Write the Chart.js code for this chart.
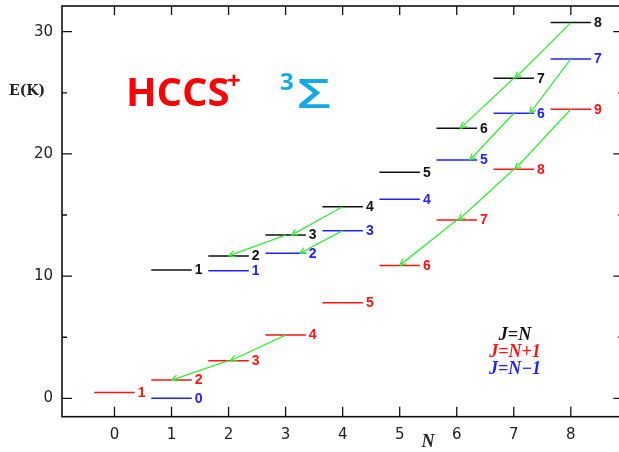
<!DOCTYPE html>
<html>
<head>
<meta charset="utf-8">
<script src="https://cdn.jsdelivr.net/npm/chart.js@4.4.1/dist/chart.umd.min.js"></script>
<style>
  html, body { margin: 0; padding: 0; overflow: hidden; background: #fff; }
  #wrap { width: 626px; height: 452px; }
</style>
</head>
<body>
<div id="wrap"><canvas id="levels" width="626" height="452"></canvas></div>
<script>
const N_VALUES = [0, 1, 2, 3, 4, 5, 6, 7, 8];

// level energies in K (null = no level for that N)
const E_J_EQ_N = [null, 10.5, 11.65, 13.36, 15.68, 18.49, 22.09, 26.19, 30.74];
const E_J_N_PLUS = [0.49, 1.5, 3.08, 5.18, 7.82, 10.88, 14.59, 18.74, 23.65];
const E_J_N_MINUS = [null, 0, 10.45, 11.87, 13.72, 16.28, 19.5, 23.32, 27.77];

// J printed next to each level
const J_EQ_N = ['', '1', '2', '3', '4', '5', '6', '7', '8'];
const J_N_PLUS = ['1', '2', '3', '4', '5', '6', '7', '8', '9'];
const J_N_MINUS = ['', '0', '1', '2', '3', '4', '5', '6', '7'];

// cascades: [upper N, lower N, N where the arrow lands on the lower level]
const ARROWS_EQ = [[8, 7, 7.02], [7, 6, 6.06], [4, 3, 3.1], [3, 2, 2.0]];
const ARROWS_PLUS = [[8, 7, 7.02], [7, 6, 6.03], [6, 5, 5.0], [3, 2, 2.03], [2, 1, 1.0]];
const ARROWS_MINUS = [[8, 7, 7.28], [7, 6, 6.23], [4, 3, 3.25]];

const LEGEND_TEXT = ['J=N', 'J=N+1', 'J=N\u22121'];

const HALF = 0.355; // half width of a level bar, in N units
const GREEN = '#3ce83c';

const SERIES = [
  { energies: E_J_EQ_N, labels: J_EQ_N, arrows: ARROWS_EQ, color: '#111111' },
  { energies: E_J_N_PLUS, labels: J_N_PLUS, arrows: ARROWS_PLUS, color: '#ff1414' },
  { energies: E_J_N_MINUS, labels: J_N_MINUS, arrows: ARROWS_MINUS, color: '#2222ff' },
];

function levelPoints(energies) {
  const pts = [];
  N_VALUES.forEach((n, i) => {
    const e = energies[i];
    if (e === null) return;
    pts.push({ x: n - HALF, y: e }, { x: n + HALF, y: e }, { x: n + HALF, y: null });
  });
  return pts;
}

function arrowPoints(s) {
  const pts = [];
  s.arrows.forEach(([from, to, tip]) => {
    pts.push({ x: from, y: s.energies[from] }, { x: tip, y: s.energies[to] }, { x: tip, y: null });
  });
  return pts;
}

const datasets = [];
SERIES.forEach((s) => {
  datasets.push({ data: arrowPoints(s), borderColor: GREEN, borderWidth: 1.3, pointRadius: 0, order: 0 });
});
SERIES.forEach((s) => {
  datasets.push({ data: levelPoints(s.energies), borderColor: s.color, borderWidth: 1.5, pointRadius: 0, order: 1 });
});

// frame with inward ticks on all four sides
const framePlugin = {
  id: 'frame',
  afterDatasetsDraw(chart) {
    const { ctx, chartArea: a, scales } = chart;
    ctx.save();
    ctx.strokeStyle = '#111';
    ctx.lineWidth = 1.6;
    ctx.strokeRect(a.left, a.top, a.right - a.left, a.bottom - a.top);
    ctx.lineWidth = 1.3;
    ctx.beginPath();
    scales.x.ticks.forEach((t) => {
      const px = scales.x.getPixelForValue(t.value);
      ctx.moveTo(px, a.bottom); ctx.lineTo(px, a.bottom - 10);
      ctx.moveTo(px, a.top); ctx.lineTo(px, a.top + 9);
    });
    scales.y.ticks.forEach((t) => {
      const py = scales.y.getPixelForValue(t.value);
      const len = t.value % 10 === 0 ? 10 : 5;
      ctx.moveTo(a.left, py); ctx.lineTo(a.left + len, py);
      ctx.moveTo(a.right, py); ctx.lineTo(a.right - len, py);
    });
    ctx.stroke();
    ctx.restore();
  },
};

// arrowheads, level labels and the free text
const notesPlugin = {
  id: 'notes',
  afterDatasetsDraw(chart) {
    const { ctx, scales: { x, y } } = chart;
    ctx.save();

    ctx.strokeStyle = GREEN;
    ctx.lineWidth = 1.3;
    SERIES.forEach((s) => {
      s.arrows.forEach(([from, to, tip]) => {
        const x0 = x.getPixelForValue(from), y0 = y.getPixelForValue(s.energies[from]);
        const x1 = x.getPixelForValue(tip), y1 = y.getPixelForValue(s.energies[to]);
        const ang = Math.atan2(y1 - y0, x1 - x0);
        ctx.beginPath();
        [-0.45, 0.45].forEach((d) => {
          ctx.moveTo(x1, y1);
          ctx.lineTo(x1 - 7 * Math.cos(ang + d), y1 - 7 * Math.sin(ang + d));
        });
        ctx.stroke();
      });
    });

    ctx.font = 'bold 14px "Liberation Sans"';
    ctx.textBaseline = 'middle';
    ctx.textAlign = 'left';
    SERIES.forEach((s) => {
      ctx.fillStyle = s.color;
      N_VALUES.forEach((n, i) => {
        if (s.energies[i] === null) return;
        ctx.fillText(s.labels[i], x.getPixelForValue(n + HALF) + 3, y.getPixelForValue(s.energies[i]) + 0.5);
      });
    });

    ctx.textAlign = 'center';
    ctx.font = 'italic bold 18px "Liberation Serif"';
    LEGEND_TEXT.forEach((t, i) => {
      ctx.fillStyle = SERIES[i].color;
      ctx.fillText(t, 515, 335 + i * 17);
    });

    ctx.fillStyle = '#222';
    ctx.font = 'bold 14px "DejaVu Serif"';
    ctx.fillText('E(K)', 27, 91);
    ctx.font = 'italic bold 18px "Liberation Serif"';
    ctx.fillText('N', 428, 442);

    ctx.textBaseline = 'alphabetic';
    ctx.textAlign = 'left';
    ctx.fillStyle = '#ff0000';
    ctx.font = 'bold 40px "Open Sans"';
    ctx.fillText('HCCS', 126, 106);
    ctx.font = 'bold 24px "Open Sans"';
    ctx.fillText('+', 227, 89);
    ctx.fillStyle = '#14a9e6';
    ctx.fillText('3', 280, 90);

    // the sigma is drawn wider than the font gives it
    ctx.font = '600 40px "Open Sans"';
    const w = ctx.measureText('\u03A3').width;
    ctx.translate(297, 108);
    ctx.scale(34 / w, 1);
    ctx.fillText('\u03A3', 0, 0);

    ctx.restore();
  },
};

new Chart(document.getElementById('levels'), {
  type: 'line',
  data: { datasets },
  options: {
    responsive: false,
    animation: false,
    events: [],
    spanGaps: false,
    layout: { padding: { top: 6, right: 2.7, left: 0, bottom: 0 } },
    plugins: { legend: { display: false }, tooltip: { enabled: false } },
    scales: {
      x: {
        type: 'linear', min: -0.92, max: 8.92,
        grid: { display: false, drawTicks: false }, border: { display: false },
        ticks: { stepSize: 1, includeBounds: false, autoSkip: false, padding: 9, color: '#222', font: { family: 'DejaVu Sans', size: 15 } },
        afterFit: (s) => { s.height = 35.3; s.paddingLeft = 0; s.paddingRight = 0; },
      },
      y: {
        type: 'linear', min: -1.5, max: 32.1,
        grid: { display: false, drawTicks: false }, border: { display: false },
        ticks: {
          stepSize: 5, includeBounds: false, autoSkip: false, padding: 9, color: '#222',
          font: { family: 'DejaVu Sans', size: 15 },
          callback: (v) => (v % 10 === 0 ? v : ''),
        },
        afterFit: (s) => { s.width = 62; s.paddingTop = 0; s.paddingBottom = 0; },
      },
    },
  },
  plugins: [framePlugin, notesPlugin],
});
</script>
</body>
</html>
